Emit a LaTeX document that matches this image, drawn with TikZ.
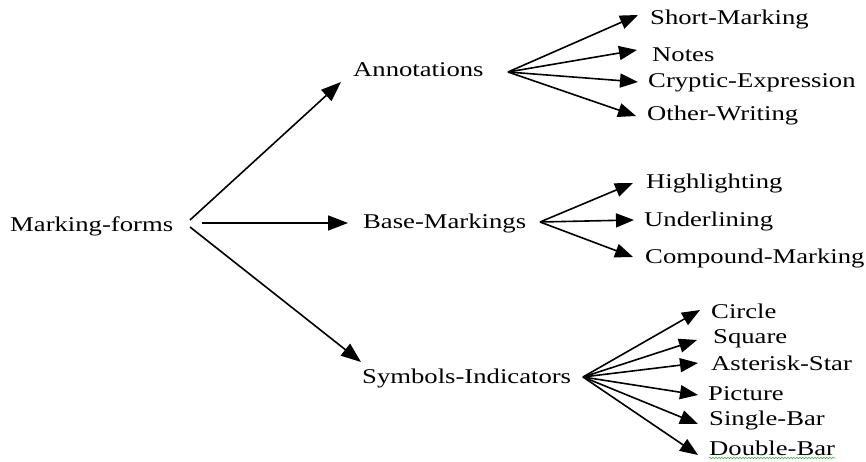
\documentclass[tikz,border=0pt]{standalone}
\usepackage{fontspec}
\setmainfont{Liberation Serif}[FakeStretch=1.27]
\usetikzlibrary{arrows.meta,decorations.pathmorphing}
\definecolor{squig}{RGB}{70,180,70}
\begin{document}
\begin{tikzpicture}[x=1pt,y=-1pt,
  lbl/.style={anchor=base west,inner sep=0pt,font=\fontsize{21}{25}\selectfont},
  arr/.style={line width=1.6pt,-{Triangle[length=18pt,width=14pt]}},
  bigarr/.style={line width=1.6pt,-{Triangle[length=20pt,width=15pt]}}]
\useasboundingbox (0,0) rectangle (866,462);
% main nodes
\node[lbl] (mf) at (10,232) {Marking-forms};
\node[lbl] (an) at (353,77) {Annotations};
\node[lbl] (bm) at (363,229) {Base-Markings};
\node[lbl] (si) at (362,383) {Symbols-Indicators};
% leaves: annotations
\node[lbl] (sm) at (650,25) {Short-Marking};
\node[lbl] (no) at (652,62) {Notes};
\node[lbl] (ce) at (648,88) {Cryptic-Expression};
\node[lbl] (ow) at (647,121) {Other-Writing};
% leaves: base markings
\node[lbl] (hl) at (646,189) {Highlighting};
\node[lbl] (ul) at (644,226) {Underlining};
\node[lbl] (cm) at (645,263) {Compound-Marking};
% leaves: symbols
\node[lbl] (ci) at (711,318) {Circle};
\node[lbl] (sq) at (713,343) {Square};
\node[lbl] (as) at (711,370) {Asterisk-Star};
\node[lbl] (pi) at (708,400) {Picture};
\node[lbl] (sb) at (709,425) {Single-Bar};
\node[lbl] (db) at (709,455) {Double-Bar};
% sources
\coordinate (mfu) at (190,220);
\coordinate (mfm) at (202,223);
\coordinate (mfd) at (190,227);
\coordinate (anf) at (508,72);
\coordinate (bmf) at (540,222);
\coordinate (sif) at (583,377);
% tips
\coordinate (tan) at (341,82);
\coordinate (tbm) at (348,223);
\coordinate (tsi) at (361,362);
\coordinate (tsm) at (638,15);
\coordinate (tno) at (637,50);
\coordinate (tce) at (638,82);
\coordinate (tow) at (636,116);
\coordinate (thl) at (633,183);
\coordinate (tul) at (634,220);
\coordinate (tcm) at (633,257);
\coordinate (tci) at (700,310);
\coordinate (tsq) at (697,340);
\coordinate (tas) at (698,363);
\coordinate (tpi) at (698,395);
\coordinate (tsb) at (698,424);
\coordinate (tdb) at (698,455);
% connectors
\draw[bigarr] (mfu) -- (tan);
\draw[bigarr] (mfm) -- (tbm);
\draw[bigarr] (mfd) -- (tsi);
\foreach \t in {tsm,tno,tce,tow} \draw[arr] (anf) -- (\t);
\foreach \t in {thl,tul,tcm} \draw[arr] (bmf) -- (\t);
\foreach \t in {tci,tsq,tas,tpi,tsb,tdb} \draw[arr] (sif) -- (\t);
% spell-check squiggle under Double-Bar
\draw[squig,line width=0.6pt,decorate,decoration={snake,amplitude=0.8pt,segment length=3pt}]
  ([yshift=-3pt]db.base west) -- ([yshift=-3pt]db.base east);
\end{tikzpicture}
\end{document}
